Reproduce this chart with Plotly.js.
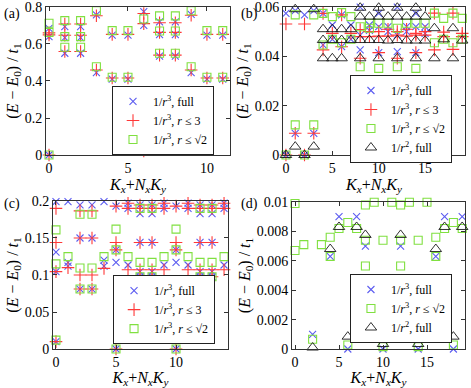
<!DOCTYPE html>
<html>
<head>
<meta charset="utf-8">
<script src="https://cdn.plot.ly/plotly-3.0.1.min.js"></script>
<style>
  html, body { margin: 0; padding: 0; background: #fff; }
  #fig { width: 471px; height: 388px; }
</style>
</head>
<body>
<div id="fig"></div>
<script>
// values read column by column: entry k holds the energies at K_x + N_x K_y = k

// panel (a)
const aFull = [[0.685,0.64,0],[0.694,0.635,0.55],[0.694,0.635,0.55],[0.757,0.445],[0.648,0.41],[0.648,0.41],
  [0.775,0.70,0.02],[0.72,0.65,0.535],[0.72,0.65,0.535],[0.76,0.445],[0.648,0.41],[0.648,0.41]];
const aR3 = [[0.66,0.649,0],[0.708,0.647,0.559],[0.708,0.647,0.559],[0.753,0.459],[0.652,0.416],[0.652,0.416],
  [0.765,0.71,0.022],[0.715,0.663,0.54],[0.715,0.663,0.54],[0.755,0.459],[0.652,0.416],[0.652,0.416]];
const aR2 = [[0.712,0.663,0],[0.726,0.64,0.582],[0.726,0.64,0.582],[0.78,0.477],[0.672,0.42],[0.672,0.42],
  [0.735,0.023],[0.752,0.67,0.55],[0.752,0.67,0.55],[0.78,0.477],[0.672,0.42],[0.672,0.42]];

// panel (b)
const bFull = [[0.0574,0],[0.0585,0.0088],[0.0568,0],[0.0585,0.0088],[0.0574,0.0446],[0.0527,0.0469],
  [0.0568,0.0439],[0.0527,0.0469],[0.0599,0.0486,0.0426],[0.0527,0.0505],[0.0574,0.052,0.0415],[0.052,0.05],
  [0.0599,0.0486,0.0419],[0.052,0.05],[0.0574,0.052,0.0415],[0.052,0.0493]];
const bR3 = [[0.0531,0],[0.0088],[0.0531,0],[0.0088],[0.0574,0.0426],[0.0493],[0.0568,0.0439],[0.0493],
  [0.0509,0.048,0.0392],[0.05,0.048],[0.05,0.0482,0.0415],[0.0482,0.051],[0.05,0.0486,0.0392],[0.0482,0.051],
  [0.0493,0.0486,0.0415],[0.0486,0.05],[0.0575,0.0426],[0.0498,0.048],[0.0575,0.0428],[0.0493,0.048]];
const bR2 = [[0],[0.0568,0.0122],[0],[0.0568,0.0122],[0.0574,0.0446],[0.0561,0.0469],[0.0577,0.0455],[0.0561,0.0469],
  [0.052,0.0358],[0.0534,0.0514],[0.0534,0.0351],[0.0534],[0.0514,0.0358],[0.0534],[0.0534,0.0351],[0.0534],
  [0.0575,0.0455],[0.0554,0.0469],[0.0575,0.0455],[0.0554,0.0469]];
const bInv2 = [[0],[0.0591,0.0034],[0],[0.0591,0.0034],[0.051,0.0466,0.0392],[0.051,0.0466,0.0392],[0.051,0.0466,0.0392],
  [0.051,0.0466],[0.0597,0.0561,0.0466,0.0392],[0.0561,0.0466],[0.0597,0.0561,0.0466,0.0392],[0.0561,0.0464],
  [0.0597,0.0561,0.0466,0.0392],[0.0561,0.0464],[0.0597,0.0561,0.0464,0.0392],[0.0561,0.0464],
  [0.0514,0.0392],[0.0469],[0.0514,0.0392],[0.0464]];

// panel (c)
const cFull = [[0.199,0.131,0.1045,0.01],[0.199,0.117,0.112],[0.1946,0.15,0.081],[0.1946,0.15,0.081],[0.199,0.12,0.112],
  [0.193,0.134,0.117,0],[0.197,0.19,0.1135],[0.1946,0.183,0.144,0.1045,0.0977],[0.1946,0.183,0.144,0.1045,0.0977],
  [0.197,0.19,0.1135],[0.193,0.134,0.117,0],[0.197,0.19,0.1135],[0.1946,0.183,0.144,0.1045,0.0977],
  [0.1946,0.183,0.144,0.1045,0.0977],[0.197,0.19,0.1135]];
const cR3 = [[0.19,0.144,0.1045,0.01],[0.11],[0.1866,0.15,0.1,0.081],[0.1866,0.15,0.1,0.081],[0.109],
  [0.193,0.144,0.134,0],[0.197,0.19,0.107],[0.1946,0.19,0.144,0.107,0.0977],[0.1946,0.19,0.144,0.107,0.0977],
  [0.197,0.19,0.107],[0.193,0.144,0.134,0],[0.197,0.19,0.107],[0.1946,0.19,0.144,0.107,0.0977],
  [0.1946,0.19,0.144,0.107,0.0977],[0.197,0.19,0.107]];
const cR2 = [[0.161,0.115,0.012],[0.1248],[0.182,0.1095,0.081],[0.182,0.1095,0.081],[0.1248],[0.162,0.134,0],
  [0.1248],[0.19,0.117,0.0977],[0.19,0.117,0.0977],[0.1248],[0.162,0.134,0],[0.1248],[0.19,0.117,0.0977],
  [0.19,0.117,0.0977],[0.1248]];

// panel (d)
const dFull = [[],[],[0.001],[],[0.0063],[0.009],[0],[0.009],[0.007],[],[0],[],[0.007],[],[0],[],[0.0063],[0.009],[0],[0.009]];
const dR2 = [[0.0099,0.0067],[0.0071],[0.00066],[0.0071],[0.0076,0.0063],[0.0082],[0.0086,0.00027],[0.0082],
  [0.0098,0.0074,0.00565],[0.00998],[0.0074,0.00016],[0.00998],[0.0098,0.0074,0.00565],[0.00998],[0.0074,0.00016],
  [0.00998],[0.0076,0.0063],[0.0082],[0.0086,0.00027],[0.0082]];
const dInv2 = [[],[],[0.0001],[],[0.0068],[0.0083],[0.00084],[0.0083],[0.00776],[],[0.00034],[],[0.00776],[],[0.00034],
  [],[0.0068],[0.0083],[0.00084],[0.0083]];

const names = {
  full: '1/<i>r</i><sup>3</sup>, full',
  r3: '1/<i>r</i><sup>3</sup>, <i>r</i> ≤ 3',
  r2: '1/<i>r</i><sup>3</sup>, <i>r</i> ≤ √2',
  inv2: '1/<i>r</i><sup>2</sup>, full'
};

const styles = {
  full: { symbol: 'x-thin-open', size: 7, color: '#5c5cf0', width: 1.1 },
  r3: { symbol: 'cross-thin-open', size: 9, color: '#ff3838', width: 1.1 },
  r2: { symbol: 'square-open', size: 8, color: '#80e040', width: 1.1 },
  inv2: { symbol: 'triangle-up-open', size: 10, color: '#1a1a1a', width: 0.9 }
};

function flatten(cols) {
  const xs = [], ys = [];
  cols.forEach((vals, k) => vals.forEach(v => { xs.push(k); ys.push(v); }));
  return { xs, ys };
}

function series(cols, key, ax, legend) {
  const { xs, ys } = flatten(cols);
  const s = styles[key];
  return {
    x: xs, y: ys, type: 'scatter', mode: 'markers', name: names[key],
    xaxis: 'x' + ax, yaxis: 'y' + ax, legend: legend, cliponaxis: false,
    marker: { symbol: s.symbol, size: s.size, color: s.color, line: { color: s.color, width: s.width } }
  };
}

const traces = [
  series(aFull, 'full', '', 'legend'), series(aR3, 'r3', '', 'legend'), series(aR2, 'r2', '', 'legend'),
  series(bFull, 'full', '2', 'legend2'), series(bR3, 'r3', '2', 'legend2'), series(bR2, 'r2', '2', 'legend2'),
  series(bInv2, 'inv2', '2', 'legend2'),
  series(cFull, 'full', '3', 'legend3'), series(cR3, 'r3', '3', 'legend3'), series(cR2, 'r2', '3', 'legend3'),
  series(dFull, 'full', '4', 'legend4'), series(dR2, 'r2', '4', 'legend4'), series(dInv2, 'inv2', '4', 'legend4')
];

const serif = 'Liberation Serif';
const yTitle = '(<i>E</i> − <i>E</i><sub>0</sub>) / <i>t</i><sub>1</sub>';
const xTitle = '<i>K</i><sub><i>x</i></sub>+<i>N</i><sub><i>x</i></sub><i>K</i><sub><i>y</i></sub>';

function common(domain, range, dtick, anchor) {
  return {
    domain, range, dtick, anchor, ticks: 'inside', ticklen: 4, mirror: 'allticks', showline: true,
    linecolor: '#333', linewidth: 1, tickcolor: '#333', showgrid: false, zeroline: false,
    ticklabeloverflow: 'allow',
    tickfont: { family: serif, size: 14, color: '#000' }
  };
}
function xax(domain, range, dtick, anchor) {
  return Object.assign(common(domain, range, dtick, anchor), {
    title: { text: xTitle, font: { family: serif, size: 16, color: '#000' }, standoff: 0 }
  });
}
function yax(domain, range, dtick, anchor) {
  return Object.assign(common(domain, range, dtick, anchor), {
    title: { text: yTitle, font: { family: serif, size: 16, color: '#000' }, standoff: 2 }
  });
}

function legendBox(x, y) {
  return {
    x, y, xanchor: 'left', yanchor: 'top', bgcolor: '#fff', bordercolor: '#222', borderwidth: 1,
    font: { family: serif, size: 12, color: '#000' }, tracegroupgap: 0, itemwidth: 30
  };
}

const layout = {
  width: 471, height: 388, margin: { l: 0, r: 0, t: 0, b: 0 },
  paper_bgcolor: '#fff', plot_bgcolor: '#fff', showlegend: true,
  xaxis: xax([0.0977, 0.4883], [-0.19, 11.46], 5, 'y'),
  yaxis: yax([0.6005, 0.982], [0, 0.8], 0.2, 'x'),
  xaxis2: xax([0.6008, 0.9873], [-0.32, 19.3], 5, 'y2'),
  yaxis2: yax([0.6005, 0.982], [0, 0.06], 0.02, 'x2'),
  xaxis3: xax([0.1125, 0.4841], [-0.25, 14.33], 5, 'y3'),
  yaxis3: yax([0.1005, 0.482], [0, 0.2], 0.05, 'x3'),
  xaxis4: xax([0.62, 0.9873], [-0.34, 19.32], 5, 'y4'),
  yaxis4: yax([0.1005, 0.4794], [0, 0.01], 0.002, 'x4'),
  legend: legendBox(0.2378, 0.7784),
  legend2: legendBox(0.743, 0.8067),
  legend3: legendBox(0.24, 0.291),
  legend4: legendBox(0.743, 0.2938),
  annotations: [
    { text: '(a)', x: 0.004, y: 0.99 },
    { text: '(b)', x: 0.508, y: 0.99 },
    { text: '(c)', x: 0.004, y: 0.5 },
    { text: '(d)', x: 0.508, y: 0.5 }
  ].map(a => Object.assign(a, {
    xref: 'paper', yref: 'paper', xanchor: 'left', yanchor: 'top', showarrow: false,
    font: { family: serif, size: 14, color: '#000' }
  }))
};

Plotly.newPlot('fig', traces, layout, { displayModeBar: false });
</script>
</body>
</html>
